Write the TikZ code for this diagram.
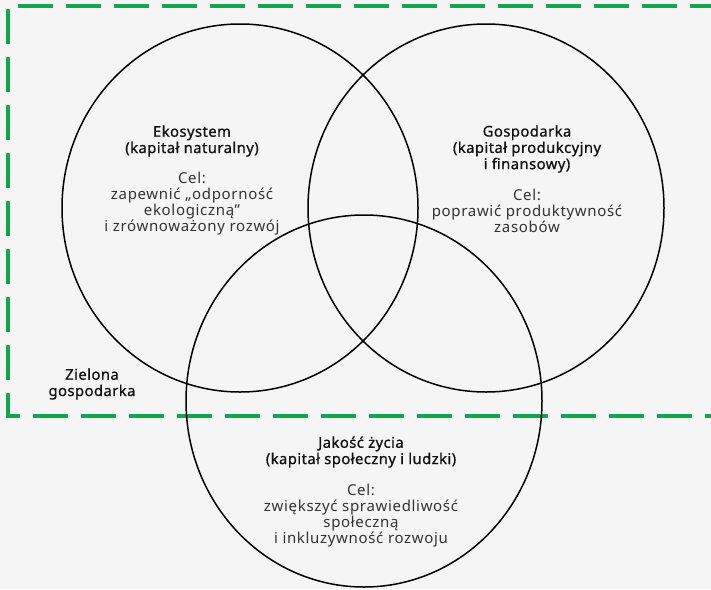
\documentclass[tikz,border=0pt]{standalone}
\usepackage{fontspec}
\usetikzlibrary{shapes.geometric}
\setmainfont{Noto Sans}
\newfontfamily\titlefont{Noto Sans}[FakeBold=0.8,LetterSpace=3]
\newfontfamily\bodyfont{Noto Sans}[LetterSpace=4.5]
\definecolor{bgc}{HTML}{F5F5F5}
\definecolor{grn}{HTML}{0DA84B}
\definecolor{ttl}{HTML}{111111}
\definecolor{bdy}{HTML}{333333}
\begin{document}
\begin{tikzpicture}[x=1pt,y=-1pt,
  ring/.style={draw=black, line width=1.5pt, ellipse, minimum width=356pt, minimum height=368pt, inner sep=0pt},
  ttext/.style={align=center, font=\titlefont\fontsize{14.8}{16.3}\selectfont, text=ttl, inner sep=0pt},
  btext/.style={align=center, font=\bodyfont\fontsize{15}{16}\selectfont, text=bdy, inner sep=0pt},
  frame/.style={draw=grn, line width=3.5pt, dash pattern=on 35pt off 13pt}]
\fill[bgc] (0,0) rectangle (711,589);
\useasboundingbox (0,0) rectangle (711,589);
% green economy frame
\coordinate (fr1) at (730,416);
\coordinate (fr2) at (8,416);
\coordinate (fr3) at (8,6);
\coordinate (fr4) at (730,6);
\draw[frame, dash phase=10pt] (fr1) -- (fr2) -- (fr3) -- (fr4);
% circles
\node[ring] (eco) at (240,208) {};
\node[ring] (gos) at (486,208) {};
\node[ring, minimum height=372pt] (jak) at (364,401) {};
% texts
\node[ttext] (ecoT) at (192,141) {Ekosystem\\(kapitał naturalny)};
\node[btext] (ecoB) at (192,204) {Cel:\\zapewnić „odporność\\ekologiczną”\\i zrównoważony rozwój};
\node[ttext] (gosT) at (527,149) {Gospodarka\\(kapitał produkcyjny\\i finansowy)};
\node[btext] (gosB) at (527,211) {Cel:\\poprawić produktywność\\zasobów};
\node[ttext] (jakT) at (361,452) {Jakość życia\\(kapitał społeczny i ludzki)};
\node[btext] (jakB) at (361,516) {Cel:\\zwiększyć sprawiedliwość\\społeczną\\i inkluzywność rozwoju};
\node[ttext] (ziel) at (92,384) {Zielona\\gospodarka};
\end{tikzpicture}
\end{document}
